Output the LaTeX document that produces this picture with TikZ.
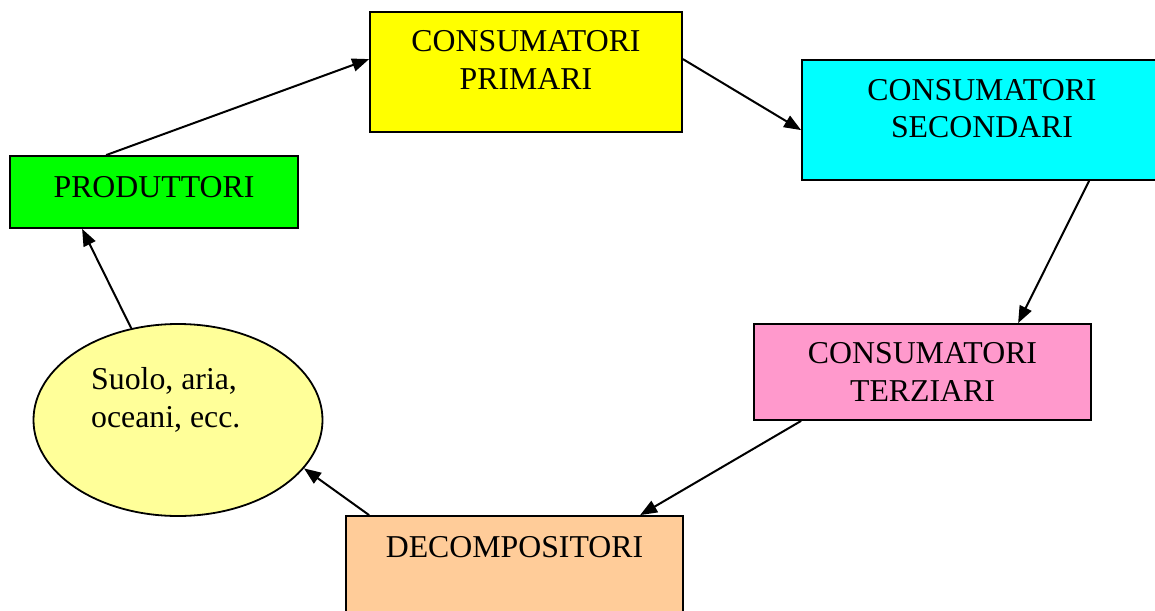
\documentclass[tikz,border=0pt]{standalone}
\usepackage{fontspec}
\setmainfont{Liberation Serif}
\usetikzlibrary{arrows.meta,shapes.geometric}
\definecolor{cPrim}{HTML}{FFFF00}
\definecolor{cSec}{HTML}{00FFFF}
\definecolor{cProd}{HTML}{00FF00}
\definecolor{cTerz}{HTML}{FF99CC}
\definecolor{cDec}{HTML}{FFCC99}
\definecolor{cEll}{HTML}{FFFF99}
\begin{document}
\begin{tikzpicture}[x=1pt,y=-1pt,
  box/.style={draw=black, line width=1.8pt, rectangle, inner sep=0pt},
  lbl/.style={anchor=base, inner sep=0pt, font=\fontsize{31.8}{37}\selectfont},
  conn/.style={line width=2pt, -{Triangle[length=17pt,width=13pt]}}]
\clip (0,0) rectangle (1155,610);
\fill[white] (0,0) rectangle (1155,610);

\node[box, fill=cPrim, minimum width=312pt, minimum height=120pt] (prim) at (526,72) {};
\node[box, fill=cSec, minimum width=360pt, minimum height=120pt] (sec) at (982,120) {};
\node[box, fill=cProd, minimum width=288pt, minimum height=72pt] (prod) at (154,192) {};
\node[box, fill=cTerz, minimum width=337pt, minimum height=96pt] (terz) at (922.5,372) {};
\node[box, fill=cDec, minimum width=337pt, minimum height=124pt] (dec) at (514.5,578) {};
\node[draw=black, line width=1.8pt, ellipse, inner sep=0pt, fill=cEll, minimum width=289pt, minimum height=192pt] (ell) at (178,420) {};

\node[lbl] (primA) at (526,52) {CONSUMATORI};
\node[lbl] (primB) at (526,89) {PRIMARI};
\node[lbl] (secA) at (982,100) {CONSUMATORI};
\node[lbl] (secB) at (982,137) {SECONDARI};
\node[lbl] (prodA) at (154,197) {PRODUTTORI};
\node[lbl] (terzA) at (922.5,363) {CONSUMATORI};
\node[lbl] (terzB) at (922.5,401) {TERZIARI};
\node[lbl] (decA) at (514.5,557) {DECOMPOSITORI};
\node[lbl, anchor=base west] (ellA) at (91,389) {Suolo, aria,};
\node[lbl, anchor=base west] (ellB) at (91,427) {oceani, ecc.};

\draw[conn] ([xshift=97pt]prod.north west) -- ([yshift=-48pt]prim.north west);
\draw[conn] ([yshift=-48pt]prim.north east) -- ([yshift=-71pt]sec.north west);
\draw[conn] ([xshift=288pt]sec.south west) -- ([xshift=265pt]terz.north west);
\draw[conn] ([xshift=48pt]terz.south west) -- ([xshift=295pt]dec.north west);
\draw[conn] ([xshift=24pt]dec.north west) -- (ell.-21.5);
\draw[conn] (ell.117.3) -- ([xshift=73pt]prod.south west);
\end{tikzpicture}
\end{document}
